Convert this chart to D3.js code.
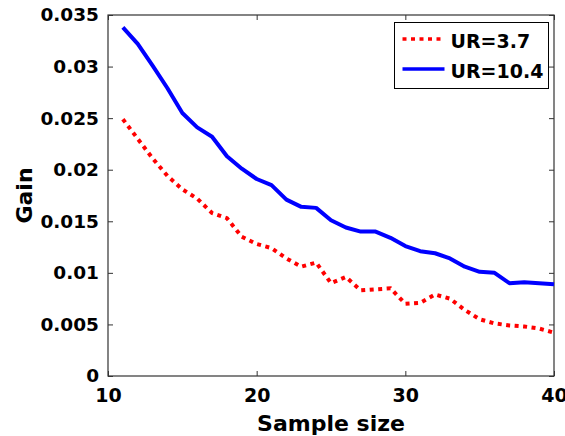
<!DOCTYPE html>
<html>
<head>
<meta charset="utf-8">
<script src="https://cdn.jsdelivr.net/npm/d3@7"></script>
<style>
	body { margin:0; background:#fff; }
	svg text { font-family:"DejaVu Sans", sans-serif; font-weight:bold; fill:#000; }
</style>
</head>
<body>
<div id="viz-container"></div>
<script>
// data
var sampleSize = [11,12,13,14,15,16,17,18,19,20,21,22,23,24,25,26,27,28,29,30,31,32,33,34,35,36,37,38,39,40];

var gainUR37 = [0.0249,0.0230,0.0211,0.0194,0.0181,0.0172,0.0158,0.0153,0.0135,0.0128,
				0.0124,0.0114,0.0106,0.0110,0.0090,0.0096,0.0083,0.0084,0.0085,0.0070,
				0.0071,0.0079,0.0075,0.0064,0.0055,0.0051,0.0049,0.0048,0.0046,0.0042];

var gainUR104 = [0.0338,0.0322,0.0301,0.0279,0.0255,0.0241,0.0232,0.0213,0.0201,0.0191,
				 0.0185,0.0171,0.0164,0.0163,0.0151,0.0144,0.0140,0.0140,0.0134,0.0126,
				 0.0121,0.0119,0.0114,0.0106,0.0101,0.0100,0.0090,0.0091,0.0090,0.0089];

var seriesNames = ["UR=3.7", "UR=10.4"];
var xTicks = [10,20,30,40];
var yTicks = [0,0.005,0.01,0.015,0.02,0.025,0.03,0.035];
var yTickLabels = ["0","0.005","0.01","0.015","0.02","0.025","0.03","0.035"];

var margin = {top:15, right:11, bottom:60, left:108},
	width = 565 - margin.left - margin.right,
	height = 436 - margin.top - margin.bottom;

var svg = d3.select('#viz-container')
		.append('svg')
			.attr('width', 565)
			.attr('height', 436)
		.append('g')
			.attr('transform','translate(' + margin.left + ',' + margin.top + ')');

var xScale = d3.scaleLinear()
		.domain([10,40])
		.range([0, width]);

var yScale = d3.scaleLinear()
		.domain([0,0.035])
		.range([height, 0]);

// box round the plot
svg.append('rect')
	.attr('width', width)
	.attr('height', height)
	.attr('fill','none')
	.attr('stroke','#333')
	.attr('stroke-width',1.2);

// axes, ticks point inwards (also on top / right)
var xAxis = d3.axisBottom(xScale).tickValues(xTicks).tickSizeInner(-5).tickSizeOuter(0).tickPadding(10);
var yAxis = d3.axisLeft(yScale).tickValues(yTicks).tickSizeInner(-5).tickSizeOuter(0).tickPadding(10)
		.tickFormat(function(d, i){ return yTickLabels[i]; });

svg.append('g')
	.attr('class','x axis')
	.attr('transform','translate(0,' + height + ')')
	.call(xAxis);

svg.append('g')
	.attr('class','y axis')
	.call(yAxis);

svg.append('g')
	.attr('transform','translate(0,0)')
	.call(d3.axisTop(xScale).tickValues(xTicks).tickSizeInner(-5).tickSizeOuter(0).tickFormat(''));

svg.append('g')
	.attr('transform','translate(' + width + ',0)')
	.call(d3.axisRight(yScale).tickValues(yTicks).tickSizeInner(-5).tickSizeOuter(0).tickFormat(''));

svg.selectAll('.domain').remove();
svg.selectAll('.tick line').attr('stroke','#333');
svg.selectAll('.x.axis text').style('font-size','19px').attr('dy','0.85em');
svg.selectAll('.y.axis text').style('font-size','18.5px').attr('dx','1px');

// axis labels
svg.append('text')
	.attr('x', xScale(25))
	.attr('y', height + 55)
	.style('text-anchor','middle')
	.style('font-size','22px')
	.text('Sample size');

svg.append('text')
	.attr('transform','translate(' + (32 - margin.left) + ',' + (height/2) + ') rotate(-90)')
	.style('text-anchor','middle')
	.style('font-size','22px')
	.text('Gain');

// lines
var line = d3.line()
	.x(function(d){ return xScale(d[0]); })
	.y(function(d){ return yScale(d[1]); });

svg.append('path')
	.datum(d3.zip(sampleSize, gainUR104))
	.attr('d', line)
	.attr('fill','none')
	.attr('stroke','#0000ff')
	.attr('stroke-width',4)
	.attr('stroke-linejoin','round');

svg.append('path')
	.datum(d3.zip(sampleSize, gainUR37))
	.attr('d', line)
	.attr('fill','none')
	.attr('stroke','#ff0000')
	.attr('stroke-width',4)
	.attr('stroke-dasharray','4,4.5');

// legend
var legend = svg.append('g')
	.attr('transform','translate(' + (394.5 - margin.left) + ',' + (22.5 - margin.top) + ')');

legend.append('rect')
	.attr('width',154)
	.attr('height',66)
	.attr('fill','#fff')
	.attr('stroke','#000')
	.attr('stroke-width',1);

var legendStyles = [
	{color:'#ff0000', dash:'4,4.5'},
	{color:'#0000ff', dash:null}
];

seriesNames.forEach(function(name, i){
	var ly = 16.5 + i*30;
	legend.append('line')
		.attr('x1',8).attr('x2',50)
		.attr('y1',ly).attr('y2',ly)
		.attr('stroke',legendStyles[i].color)
		.attr('stroke-width',3.5)
		.attr('stroke-dasharray',legendStyles[i].dash);
	legend.append('text')
		.attr('x',56)
		.attr('y',ly + 8.5)
		.style('font-size','19px')
		.text(name);
});
</script>
</body>
</html>
